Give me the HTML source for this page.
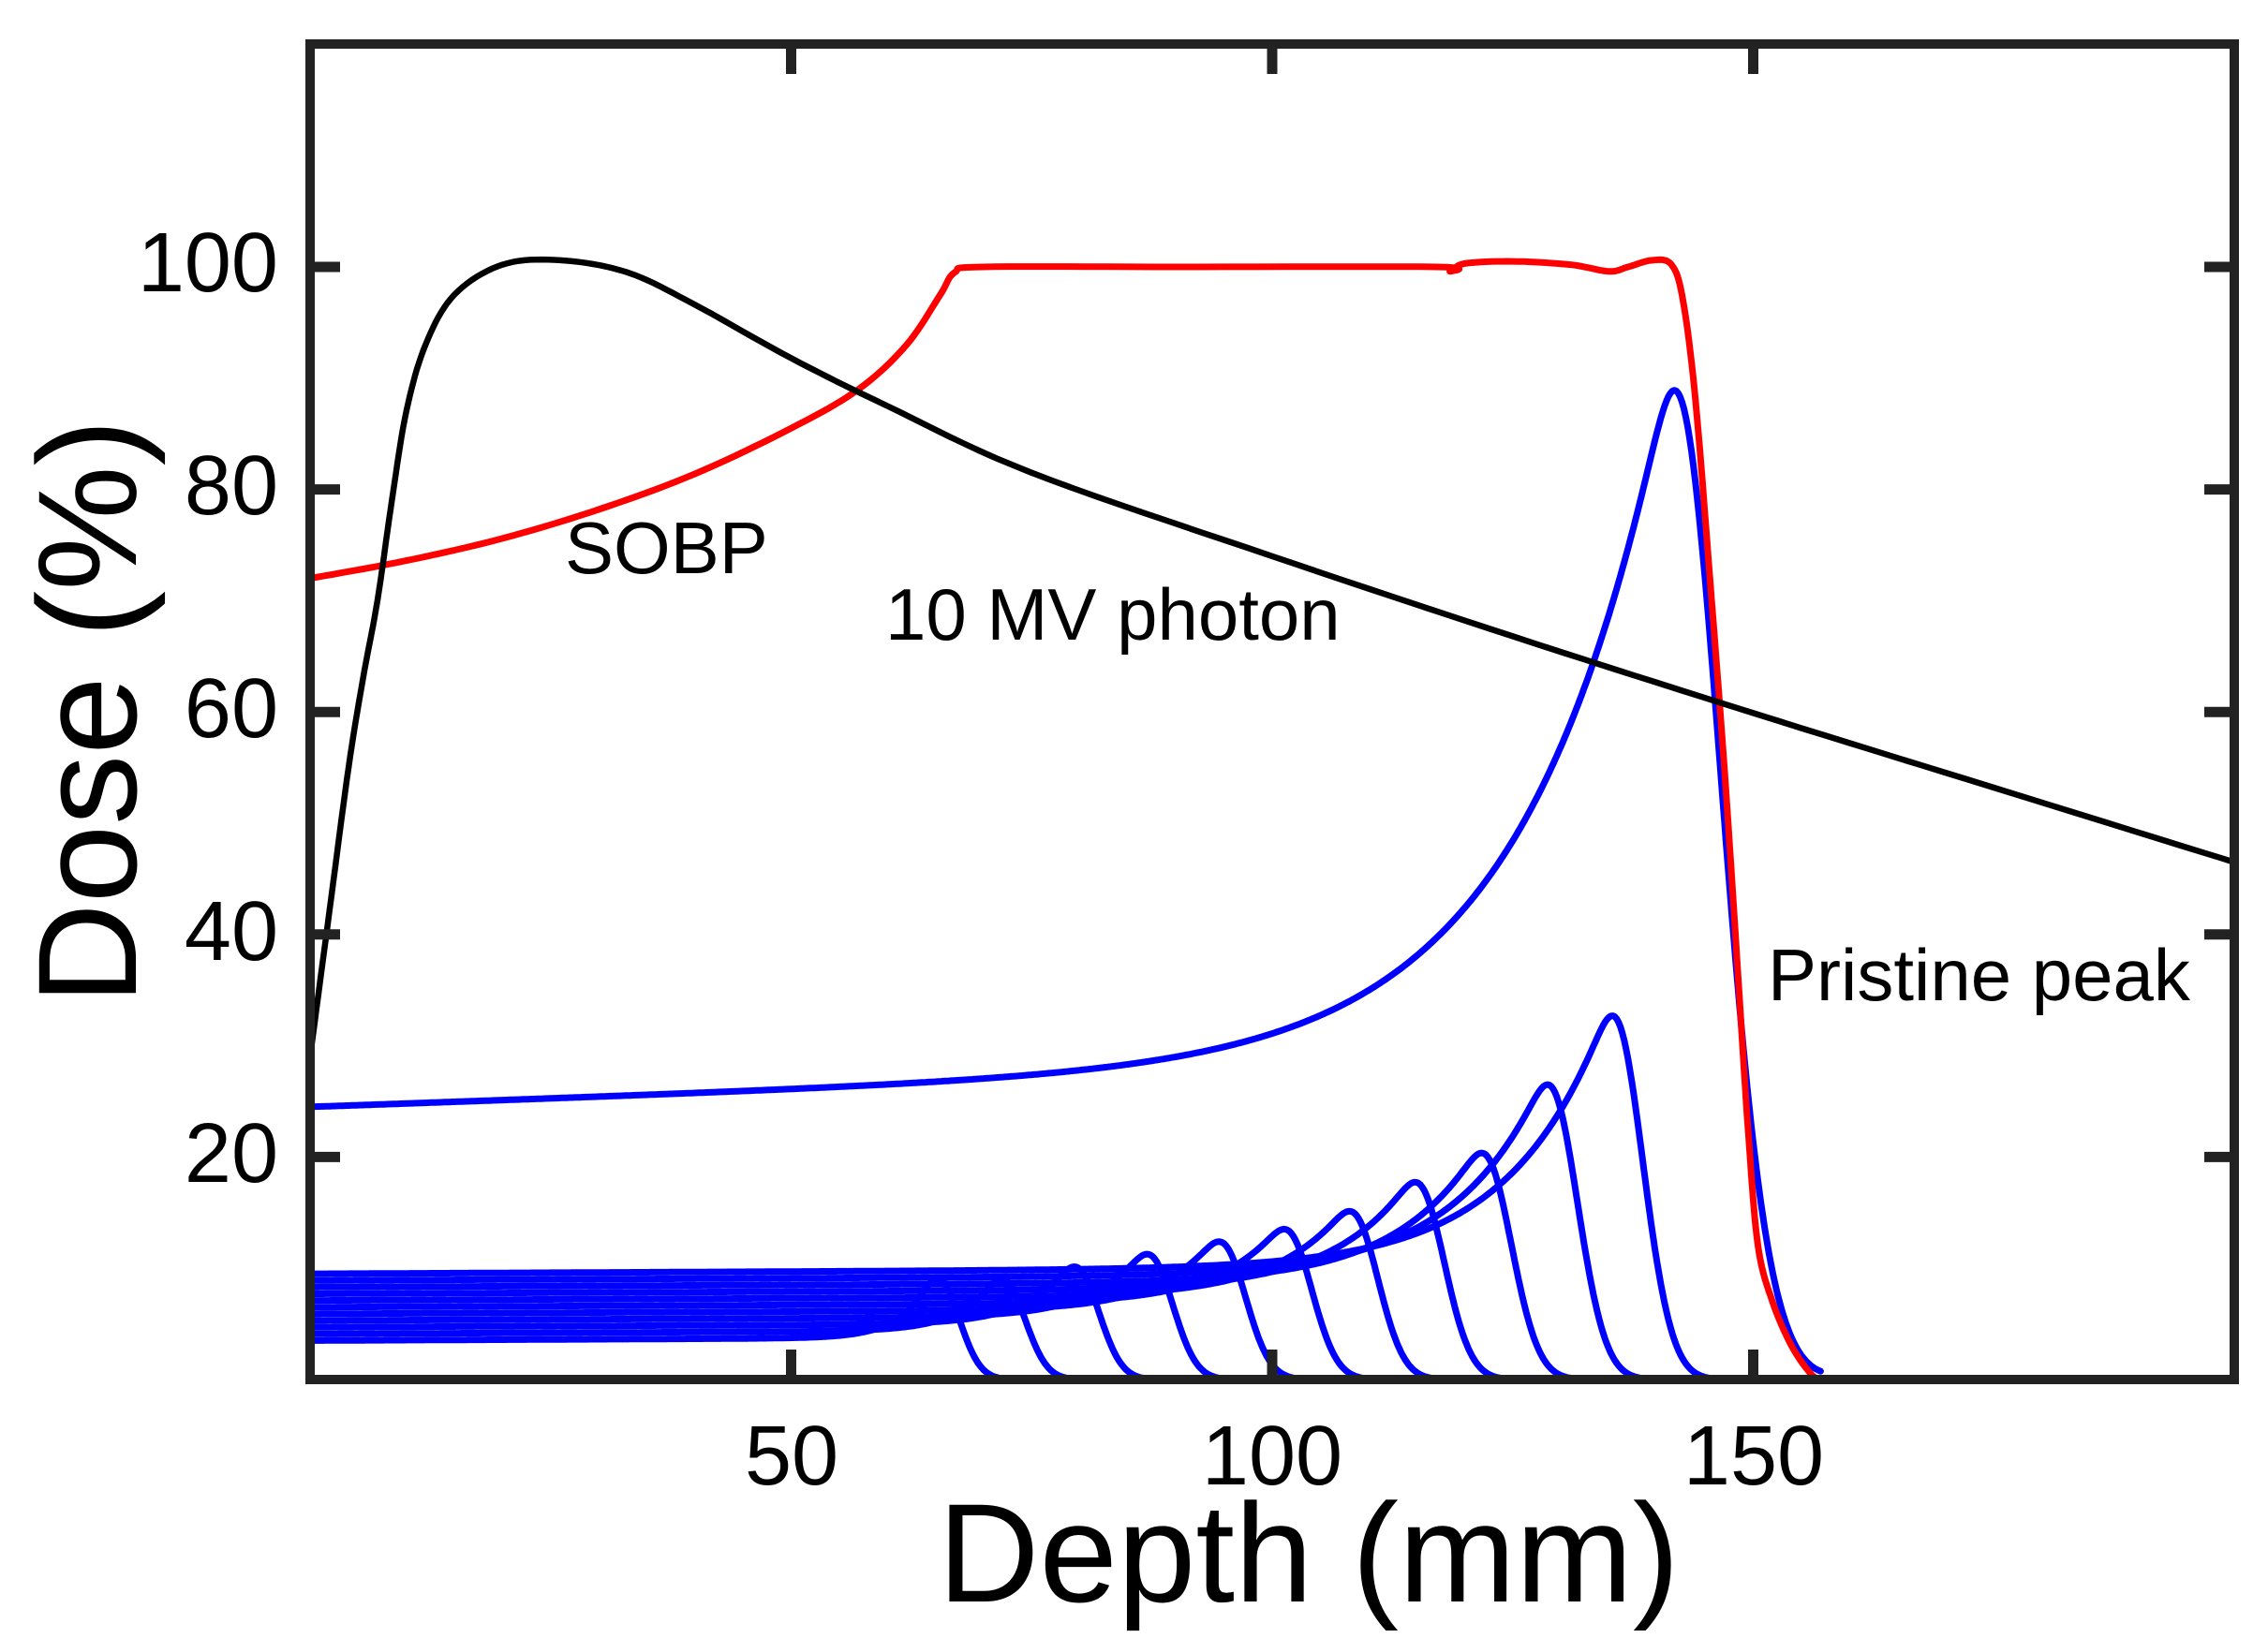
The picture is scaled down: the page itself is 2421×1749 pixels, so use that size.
<!DOCTYPE html>
<html><head><meta charset="utf-8"><style>
html,body{margin:0;padding:0;background:#fff;}
svg{display:block;}
text{font-family:"Liberation Sans",Arial,sans-serif;fill:#000;}
</style></head><body>
<svg id="s" width="2421" height="1749" viewBox="0 0 2421 1749" xmlns="http://www.w3.org/2000/svg">
<g id="curves" fill="none" stroke-linejoin="round" stroke-linecap="round"></g>
<rect x="331" y="47" width="2054" height="1426" fill="none" stroke="#222" stroke-width="10"/>
<g id="ticks" stroke="#222" stroke-width="11"></g>
<g font-size="90">
<text x="297" y="311" text-anchor="end">100</text>
<text x="297" y="549" text-anchor="end">80</text>
<text x="297" y="787" text-anchor="end">60</text>
<text x="297" y="1025" text-anchor="end">40</text>
<text x="297" y="1262" text-anchor="end">20</text>
<text x="845" y="1585" text-anchor="middle">50</text>
<text x="1358" y="1585" text-anchor="middle">100</text>
<text x="1872" y="1585" text-anchor="middle">150</text>
</g>
<text x="1397" y="1710" font-size="150" text-anchor="middle">Depth (mm)</text>
<text transform="translate(145,760) rotate(-90)" font-size="150" text-anchor="middle">Dose (%)</text>
<g font-size="78">
<text x="603" y="612">SOBP</text>
<text x="945" y="683">10 MV photon</text>
<text x="1887" y="1068">Pristine peak</text>
</g>
</svg>
<script>
var X0=331,Y0=1473,SX=10.27,SY=11.88;
function px(x){return X0+x*SX;} function py(y){return Y0-y*SY;}
var g=document.getElementById('curves'),t=document.getElementById('ticks');
function path(d,c,w){var p=document.createElementNS('http://www.w3.org/2000/svg','path');p.setAttribute('d',d);p.setAttribute('stroke',c);p.setAttribute('stroke-width',w||7);g.appendChild(p);}
function fn(f,a,b,step,sig){var xs=[],ys=[];for(var x=a;x<=b+1e-9;x+=step){xs.push(x);ys.push(f(x));}
if(sig){var n=Math.ceil(3*sig/step),out=[];for(var i=0;i<ys.length;i++){var s=0,ws=0;for(var k=-n;k<=n;k++){var j=Math.min(ys.length-1,Math.max(0,i+k));var w=Math.exp(-0.5*Math.pow(k*step/sig,2));s+=w*ys[j];ws+=w;}out.push(s/ws);}ys=out;}
var d='';for(var i=0;i<xs.length;i++){d+=(d?'L':'M')+px(xs[i]).toFixed(1)+','+py(ys[i]).toFixed(1);}return d;}
function cr(pts){var d='M'+px(pts[0][0])+','+py(pts[0][1]);for(var i=0;i<pts.length-1;i++){var p0=pts[Math.max(0,i-1)],p1=pts[i],p2=pts[i+1],p3=pts[Math.min(pts.length-1,i+2)];
for(var k=1;k<=10;k++){var s=k/10,s2=s*s,s3=s2*s;var cx=0.5*((2*p1[0])+(-p0[0]+p2[0])*s+(2*p0[0]-5*p1[0]+4*p2[0]-p3[0])*s2+(-p0[0]+3*p1[0]-3*p2[0]+p3[0])*s3);
var cy=0.5*((2*p1[1])+(-p0[1]+p2[1])*s+(2*p0[1]-5*p1[1]+4*p2[1]-p3[1])*s2+(-p0[1]+3*p1[1]-3*p2[1]+p3[1])*s3);d+='L'+px(cx).toFixed(1)+','+py(cy).toFixed(1);}}return d;}
var R=[65.2,72,79.6,87.2,94.7,101.5,108.3,115.1,122,128.8,135.5];
var P=[9.3,9,10,11,12,13,14.5,17,19.5,25.5,31.5];
for(var i=0;i<R.length;i++){(function(i){var r=R[i],p=P[i]*1.08,e=3.5+6*i/10,w=3+7*i/10,s=2.8+1.2*i/10;
path(fn(function(x){if(x<=r)return e+(p-e)*Math.exp(-(r-x)/w)+0.004*x;return (p+0.004*r)*Math.exp(-Math.pow((x-r)/s,2));},0,156,0.2,1.0),'#0000ff');})(i);}
path(fn(function(x){var r=141.8;var base=24.5+0.03*x;if(x<=r)return base+64*Math.exp(-(r-x)/14.5);var pk=24.5+0.03*r+64;return pk*Math.exp(-Math.pow((x-r)/6.6,2));},0,157,0.2,1.3),'#0000ff');
path(cr([[0,72],[10,73.6],[20,75.6],[30,78.2],[40,81.4],[50,85.5],[57,89],[62,93],[65.5,97.5],[67,99.5],[70,100],[90,100],[117,100],[118.5,99.6],[120,100.3],[125,100.5],[131,100.2],[135,99.6],[137,100],[139.5,100.6],[141.5,100.2],[142.7,97],[144,88],[145.5,72],[147,55],[148.3,38],[149.5,22],[150.5,12],[152,7],[154,3],[156,0.5],[157,0]]),'#ff0000',7);
path(cr([[0,29],[2,42],[4,55],[5.5,63],[7,70],[8.5,79],[10,87],[12,93],[15,97.5],[20,100.2],[26,100.6],[33,99.5],[40,96.6],[50,91.8],[60,87.5],[75,81.5],[100,74],[125,66.8],[150,59.9],[175,53.2],[200,46.5]]),'#000',6.5);
var L=32,h='';
[20,40,60,80,100].forEach(function(v){var y=py(v);h+='M331,'+y+'h'+L+'M2385,'+y+'h-'+L;});
[50,100,150].forEach(function(v){var x=px(v);h+='M'+x+',1473v-'+L+'M'+x+',47v'+L;});
var tp=document.createElementNS('http://www.w3.org/2000/svg','path');tp.setAttribute('d',h);t.appendChild(tp);
</script>
</body></html>
